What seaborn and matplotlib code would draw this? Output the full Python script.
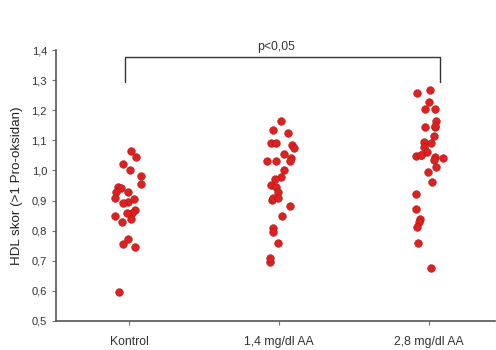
import numpy as np
import pandas as pd
import seaborn as sns
import matplotlib.pyplot as plt

# group names (x categories)
groups = ["Kontrol", "1,4 mg/dl AA", "2,8 mg/dl AA"]

# HDL scores, one list per group
kontrol = [1.066, 1.046, 1.021, 1.001, 0.983, 0.954, 0.946, 0.941, 0.929, 0.929,
           0.908, 0.896, 0.904, 0.891, 0.869, 0.860, 0.849, 0.838, 0.830, 0.860,
           0.756, 0.747, 0.771, 0.595]
aa_14 = [1.165, 1.123, 1.134, 1.092, 1.092, 1.085, 1.074, 1.054, 1.042, 1.032,
         1.032, 1.032, 1.001, 0.979, 0.972, 0.952, 0.944, 0.929, 0.902, 0.909,
         0.909, 0.882, 0.850, 0.810, 0.797, 0.758, 0.697, 0.708]
aa_28 = [1.266, 1.256, 1.226, 1.204, 1.204, 1.164, 1.145, 1.148, 1.145, 1.115,
         1.093, 1.092, 1.077, 1.062, 1.048, 1.051, 1.040, 1.051, 1.044, 1.035,
         1.010, 0.996, 0.963, 0.922, 0.871, 0.839, 0.830, 0.811, 0.758, 0.677]

yticks = [0.5, 0.6, 0.7, 0.8, 0.9, 1.0, 1.1, 1.2, 1.3, 1.4]

df = pd.DataFrame({
    "grup": [groups[0]] * len(kontrol) + [groups[1]] * len(aa_14) + [groups[2]] * len(aa_28),
    "skor": kontrol + aa_14 + aa_28,
})

sns.set_style("white")
plt.rcParams["font.family"] = ["Liberation Sans", "DejaVu Sans"]

fig = plt.figure(figsize=(4.96, 3.5), dpi=100)
ax = fig.add_axes([0.113, 0.083, 0.885, 0.774])

np.random.seed(3)
sns.stripplot(data=df, x="grup", y="skor", order=groups, jitter=0.1,
              color="#dd2020", edgecolor="#a01010", linewidth=0.3, size=5.6, ax=ax)

ax.set_xlim(-0.49, 2.44)
ax.set_ylim(0.5, 1.4)
ax.set_yticks(yticks)
ax.set_yticklabels([f"{v:.1f}".replace(".", ",") for v in yticks])
ax.set_xlabel("")
ax.set_ylabel("HDL skor (>1 Pro-oksidan)", fontsize=9.6, color="#222222", labelpad=6)

for side in ["top", "right"]:
    ax.spines[side].set_visible(False)
for side in ["left", "bottom"]:
    ax.spines[side].set_color("#555555")
    ax.spines[side].set_linewidth(1.2)

ax.tick_params(axis="both", direction="out", length=3, width=0.8, color="#777777",
               labelsize=8, labelcolor="#333333")
ax.tick_params(axis="x", pad=8, labelsize=8.8)
ax.tick_params(left=True, bottom=True)

# significance bracket
ax.plot([-0.03, -0.03, 2.07, 2.07], [1.294, 1.376, 1.376, 1.294],
        color="#333333", lw=1.0, clip_on=False)
ax.text(0.98, 1.41, "p<0,05", ha="center", va="center", fontsize=8.8,
        color="#333333", clip_on=False)

fig.savefig("out.png", dpi=100)
